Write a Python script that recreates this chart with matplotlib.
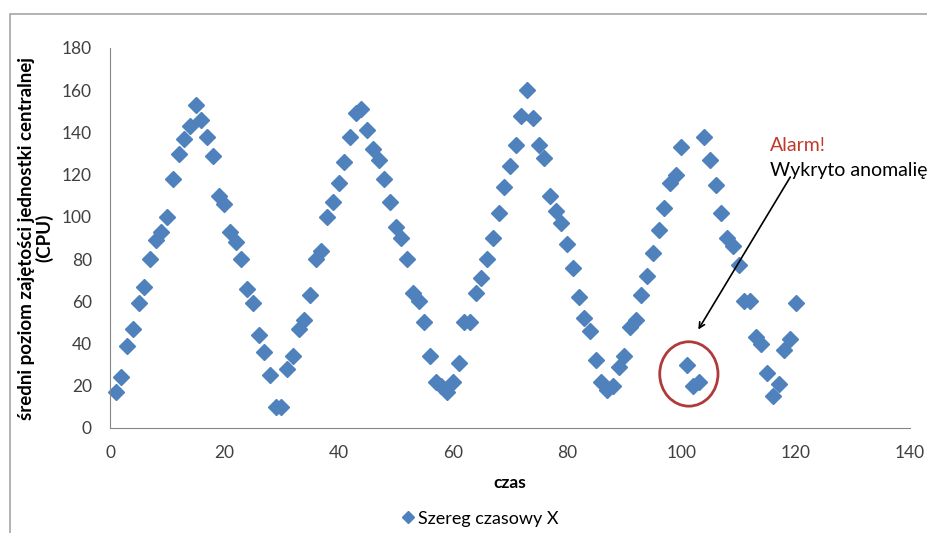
import matplotlib
matplotlib.use("Agg")
import matplotlib.pyplot as plt
from matplotlib.patches import Ellipse, Rectangle

plt.rcParams['font.family'] = ['Lato', 'DejaVu Sans']

# dane
czas = list(range(1, 121))
cpu = [17, 24, 39, 47, 59, 67, 80, 89, 93, 100,
       118, 130, 137, 143, 153, 146, 138, 129, 110, 106,
       93, 88, 80, 66, 59, 44, 36, 25, 10, 10,
       28, 34, 47, 51, 63, 80, 84, 100, 107, 116,
       126, 138, 149, 151, 141, 132, 127, 118, 107, 95,
       90, 80, 64, 60, 50, 34, 22, 20, 17, 22,
       31, 50, 50, 64, 71, 80, 90, 102, 114, 124,
       134, 148, 160, 147, 134, 128, 110, 103, 97, 87,
       76, 62, 52, 46, 32, 22, 18, 20, 29, 34,
       48, 51, 63, 72, 83, 94, 104, 116, 120, 133,
       30, 20, 22, 138, 127, 115, 102, 90, 86, 77,
       60, 60, 43, 40, 26, 15, 21, 37, 42, 59]

x_ticks = list(range(0, 141, 20))
y_ticks = list(range(0, 181, 20))

fig = plt.figure(figsize=(9.27, 5.33), dpi=100)
ax = fig.add_axes([110/927, 1 - 428/533, 800/927, 380/533])

# ramka wykresu (ucięta z prawej i z dołu)
fig.patches.append(Rectangle((10/927, -0.1), 1.2, 1 - 14/533 + 0.1,
                             transform=fig.transFigure, fill=False,
                             ec='#a6a6a6', lw=1.2))

ax.plot(czas, cpu, linestyle='none', marker='D', markersize=8,
        color='#4f81bd', mec='#4f81bd', label='Szereg czasowy X', clip_on=False)

ax.set_xlim(0, 140)
ax.set_ylim(0, 180)
ax.set_xticks(x_ticks)
ax.set_yticks(y_ticks)
ax.tick_params(labelsize=12.5, labelcolor='#404040', length=0)
ax.tick_params(axis='x', pad=12)
ax.tick_params(axis='y', pad=13)
for s in ['top', 'right']:
    ax.spines[s].set_visible(False)
for s in ['left', 'bottom']:
    ax.spines[s].set_color('#868686')

ax.set_xlabel('czas', fontsize=12.5, fontweight='bold', labelpad=10)
ax.set_ylabel('średni poziom zajętości jednostki centralnej\n(CPU)', fontsize=13.5,
              fontweight='bold', labelpad=6, linespacing=1.0)

# anomalia
ax.add_patch(Ellipse((101.3, 25.6), 10.2, 30.5, fill=False, ec='#b03a3a', lw=2))
ax.annotate('', xy=(102.7, 45.5), xytext=(119.3, 120),
            arrowprops=dict(arrowstyle='->', color='black', lw=1.2))
ax.text(115.5, 134, 'Alarm!', color='#c0392b', fontsize=14, ha='left', va='center')
ax.text(115.5, 122, 'Wykryto anomalię', color='black', fontsize=14, ha='left', va='center')

ax.legend(loc='upper center', bbox_to_anchor=(0.461, -0.175), frameon=False,
          fontsize=13, handletextpad=0.1, handlelength=1.0, markerscale=0.8)

fig.savefig('out.png', dpi=100)
